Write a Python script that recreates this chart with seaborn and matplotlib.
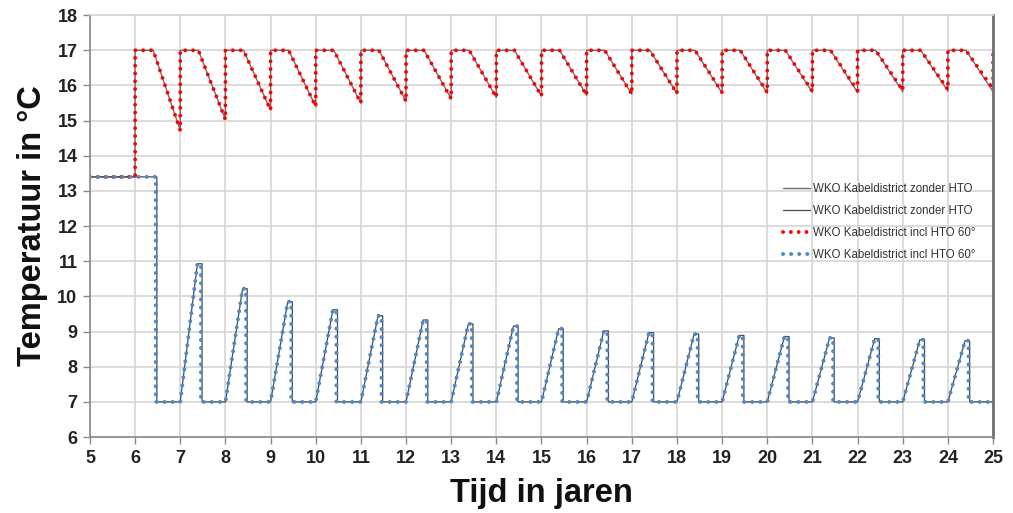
import matplotlib
matplotlib.use("Agg")
import matplotlib.pyplot as plt
import seaborn as sns
import numpy as np
import pandas as pd

# ---------------- data ----------------
start_level = 13.4          # initial temperature (both wells)
warm_max = 17.0             # warm well injection temperature
cold_min = 7.0              # cold well injection temperature
cold_drop_year = 6.47       # cold well drops to 7 °C
warm_cycle_years = list(range(6, 25))          # start of each warm cycle
warm_min_end = [14.72, 15.03, 15.30, 15.40, 15.50, 15.55, 15.62, 15.66, 15.70,
                15.72, 15.75, 15.77, 15.80, 15.80, 15.83, 15.85, 15.86, 15.88, 15.90]
warm_min_end_ref = [14.72, 15.03, 15.30, 15.40, 15.50, 15.55, 15.62, 15.66, 15.70,
                    15.72, 15.75, 15.77, 15.78, 15.78, 15.80, 15.80, 15.82, 15.84, 15.82]
warm_flat = 0.4             # fraction of year at 17 °C before declining
cold_cycle_years = list(range(7, 25))
cold_peak = [10.93, 10.22, 9.85, 9.62, 9.45, 9.33, 9.22, 9.16, 9.08, 9.02,
             8.97, 8.93, 8.89, 8.86, 8.82, 8.80, 8.77, 8.74]
cold_rise = 0.38
cold_end = 0.47

x_ticks = list(range(5, 26))
y_ticks = list(range(6, 19))

labels = ["WKO Kabeldistrict zonder HTO", "WKO Kabeldistrict zonder HTO",
          "WKO Kabeldistrict incl HTO 60°", "WKO Kabeldistrict incl HTO 60°"]


def warm_series(mins):
    xs = [5, 6]
    ys = [start_level, start_level]
    for n, m in zip(warm_cycle_years, mins):
        xs += [n, n + warm_flat, n + 1]
        ys += [warm_max, warm_max, m]
    xs.append(25)
    ys.append(warm_max)
    return pd.DataFrame({"t": xs, "T": ys})


def cold_series(shift=0.0):
    xs = [5, cold_drop_year + shift, cold_drop_year + shift, 7]
    ys = [start_level, start_level, cold_min, cold_min]
    for n, p in zip(cold_cycle_years, cold_peak):
        xs += [n + cold_rise, n + cold_end + shift, n + cold_end + shift, n + 1]
        ys += [p, p, cold_min, cold_min]
    return pd.DataFrame({"t": xs, "T": ys})


warm_ref = warm_series(warm_min_end_ref)
cold_ref = cold_series(0.012)
warm_hto = warm_series(warm_min_end)
cold_hto = cold_series(-0.012)

# ---------------- plot ----------------
sns.set_theme(style="white")
plt.rcParams["font.family"] = ["Liberation Sans", "DejaVu Sans"]

fig = plt.figure(figsize=(10.13, 5.13), dpi=100)
ax = fig.add_axes([0.0888, 0.148, 0.8915, 0.8225])

sns.lineplot(data=warm_ref, x="t", y="T", sort=False, estimator=None, ax=ax,
             color="#707070", lw=1.0, label=labels[0])
sns.lineplot(data=cold_ref, x="t", y="T", sort=False, estimator=None, ax=ax,
             color="#4a4a4a", lw=0.9, label=labels[1])
sns.lineplot(data=warm_hto, x="t", y="T", sort=False, estimator=None, ax=ax,
             color="#ff0000", lw=2.8, label=labels[2])
sns.lineplot(data=cold_hto, x="t", y="T", sort=False, estimator=None, ax=ax,
             color="#5088CC", lw=2.9, label=labels[3])

for ln in ax.get_lines()[2:4]:
    ln.set_linestyle((0, (0.01, 2.0)))
    ln.set_dash_capstyle("round")

ax.set_xlim(5, 25)
ax.set_ylim(6, 18)
ax.set_xticks(x_ticks)
ax.set_yticks(y_ticks)
ax.grid(True, color="#d6d6d6", lw=1.2)
ax.set_axisbelow(True)

for lab in ax.get_xticklabels() + ax.get_yticklabels():
    lab.set_fontweight("bold")
    lab.set_fontsize(13)
    lab.set_color("#222222")
ax.tick_params(axis="both", direction="out", length=5, width=1, color="#8a8a8a",
               left=True, bottom=True, pad=4)

for s in ["left", "bottom"]:
    ax.spines[s].set_color("#8a8a8a")
    ax.spines[s].set_linewidth(1.2)
ax.spines["top"].set_color("#d6d6d6")
ax.spines["top"].set_linewidth(1.2)
ax.spines["right"].set_color("#707070")
ax.spines["right"].set_linewidth(2)

ax.set_xlabel("Tijd in jaren", fontsize=23.5, fontweight="bold", color="#111111", labelpad=8)
ax.set_ylabel("Temperatuur in °C", fontsize=23.5, fontweight="bold", color="#111111", labelpad=7)

leg = ax.legend(loc="upper left", bbox_to_anchor=(0.7674, 0.6025), frameon=False,
                fontsize=8.3, labelspacing=0.87, handlelength=2.35, handletextpad=0.25,
                borderpad=0, borderaxespad=0)
for t in leg.get_texts():
    t.set_color("#333333")

fig.savefig("out.png", dpi=100)
